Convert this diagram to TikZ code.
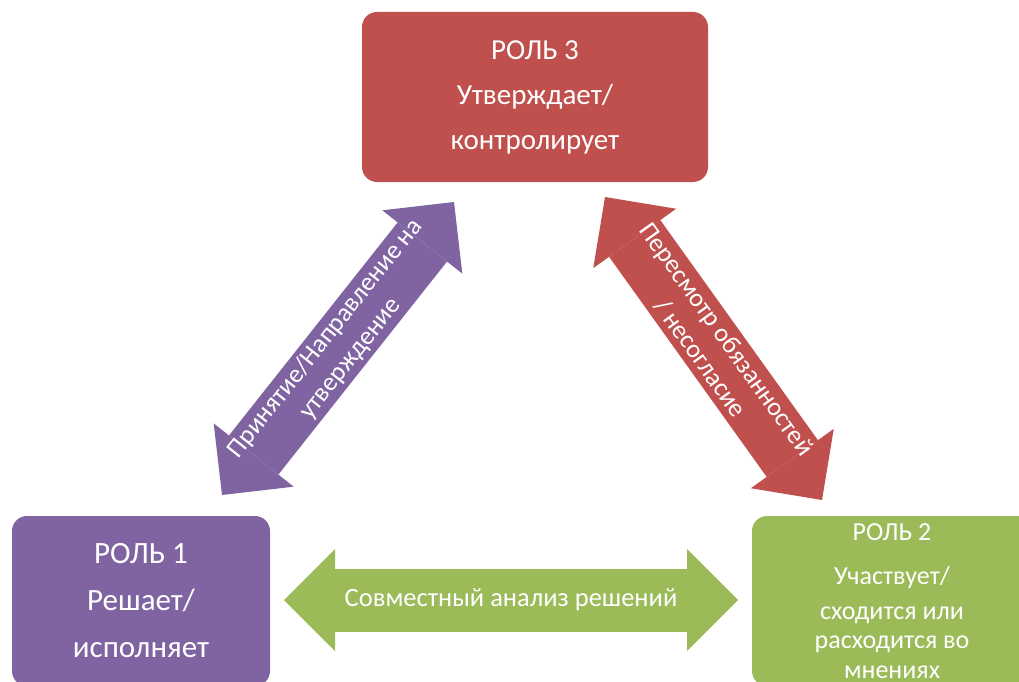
\documentclass[tikz,border=0pt]{standalone}
\usepackage{fontspec}
\setmainfont{Carlito}
\usetikzlibrary{arrows.meta,positioning,calc}
\definecolor{rd}{HTML}{C0504D}
\definecolor{pr}{HTML}{8064A2}
\definecolor{gn}{HTML}{9BBB59}
\tikzset{
    role/.style =   {rectangle,
                    rounded corners=15pt,
                    draw=none,
                    text=white,
                    align=center,
                    inner sep=0pt,
                    minimum height=170pt},
    link/.style =   {line width=63pt,
                    >={Triangle[length=51pt,width=102pt,line width=0pt]},
                    <->},
    lbl/.style =    {text=white,
                    align=center,
                    midway,
                    sloped,
                    font=\fontsize{26}{32}\selectfont}
}

\begin{document}
\begin{tikzpicture}[x=1pt,y=-1pt]
    \useasboundingbox (0,0) rectangle (1019,682);
    \clip (0,0) rectangle (1019,682);
    % roles
    \node[role, fill=rd, minimum width=346pt, font=\fontsize{29}{45}\selectfont]
        (R3) at (535,97) {РОЛЬ 3\\Утверждает/\\контролирует};
    \node[role, fill=pr, minimum width=258pt, font=\fontsize{31}{47}\selectfont]
        (R1) at (141,601) {РОЛЬ 1\\Решает/\\исполняет};
    \node[role, fill=gn, minimum width=280pt, font=\fontsize{26}{29.5}\selectfont]
        (R2) at (892,601) {РОЛЬ 2\\[14.5pt]Участвует/\\[5.5pt]сходится или\\расходится во\\мнениях};
    % arrow ends
    \coordinate (p1) at (222,495);
    \coordinate (p3) at (454,202);
    \coordinate (q3) at (605,197);
    \coordinate (q2) at (822,500);
    \coordinate (g1) at (284,600);
    \coordinate (g2) at (738,600);
    % links
    \draw[link, draw=pr] (p1) -- node[lbl] {Принятие/Направление на\\утверждение} (p3);
    \draw[link, draw=rd] (q3) -- node[lbl] {Пересмотр обязанностей\\/ несогласие} (q2);
    \draw[link, draw=gn] (g1) -- node[lbl, font=\fontsize{26.5}{32}\selectfont] {Совместный анализ решений} (g2);
\end{tikzpicture}
\end{document}
